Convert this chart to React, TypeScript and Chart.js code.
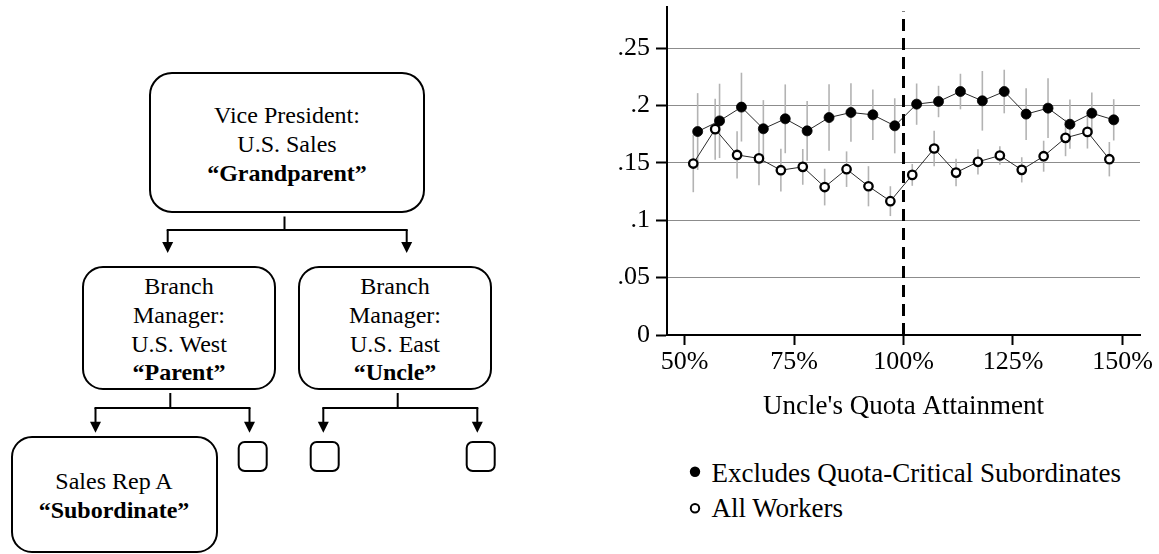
import React, { useEffect, useRef } from "react";
import { Chart, registerables } from "chart.js";

Chart.register(...registerables);

// ---------- chart data ----------
const filledX = [53, 58, 63, 68, 73, 78, 83, 88, 93, 98, 103, 108, 113, 118, 123, 128, 133, 138, 143, 148];
const filledY = [0.1774, 0.1867, 0.1987, 0.1798, 0.1885, 0.178, 0.1896, 0.194, 0.192, 0.1824, 0.2013, 0.2036, 0.2123, 0.2042, 0.2123, 0.1926, 0.1978, 0.1838, 0.1934, 0.1876];
const filledErr = [0.0335, 0.0324, 0.03, 0.025, 0.03, 0.026, 0.029, 0.0255, 0.022, 0.024, 0.018, 0.0137, 0.0155, 0.026, 0.019, 0.0225, 0.026, 0.0215, 0.018, 0.018];

const hollowX = [52, 57, 62, 67, 72, 77, 82, 87, 92, 97, 102, 107, 112, 117, 122, 127, 132, 137, 142, 147];
const hollowY = [0.1495, 0.1795, 0.157, 0.154, 0.1437, 0.1466, 0.129, 0.1446, 0.1297, 0.1167, 0.1396, 0.1626, 0.1416, 0.151, 0.1565, 0.144, 0.1559, 0.1719, 0.1771, 0.1533];
const hollowErr = [0.025, 0.0266, 0.0206, 0.0235, 0.0186, 0.0156, 0.016, 0.0155, 0.0175, 0.013, 0.0095, 0.0155, 0.012, 0.011, 0.008, 0.011, 0.0135, 0.016, 0.0145, 0.015];

const cutoffX = [100, 100];
const cutoffY = [0, 0.282];

const xTickValues = [50, 75, 100, 125, 150];
const xTickLabels = ["50%", "75%", "100%", "125%", "150%"];
const yTickValues = [0, 0.05, 0.1, 0.15, 0.2, 0.25];
const yTickLabels = ["0", ".05", ".1", ".15", ".2", ".25"];

const seriesNames = ["Excludes Quota-Critical Subordinates", "All Workers"];
const xTitle = "Uncle's Quota Attainment";

const SERIF = "'Liberation Serif', 'Times New Roman', serif";

const errorBarPlugin = {
  id: "errorBars",
  beforeDatasetsDraw(chart: any) {
    const { ctx, scales } = chart;
    const x = scales.x;
    const y = scales.y;
    ctx.save();
    ctx.strokeStyle = "#b3b3b3";
    ctx.lineWidth = 1.6;
    chart.data.datasets.forEach((ds: any) => {
      const errs: number[] | undefined = ds.errorBars;
      if (!errs) return;
      ds.data.forEach((p: any, i: number) => {
        const px = x.getPixelForValue(p.x);
        ctx.beginPath();
        ctx.moveTo(px, y.getPixelForValue(p.y - errs[i]));
        ctx.lineTo(px, y.getPixelForValue(p.y + errs[i]));
        ctx.stroke();
      });
    });
    ctx.restore();
  },
};

function ScatterChart() {
  const ref = useRef<HTMLCanvasElement | null>(null);
  useEffect(() => {
    if (!ref.current) return;
    Chart.defaults.color = "#000";
    const chart = new Chart(ref.current, {
      type: "line",
      data: {
        datasets: [
          {
            label: "cutoff",
            data: cutoffX.map((v, i) => ({ x: v, y: cutoffY[i] })),
            borderColor: "#000",
            borderWidth: 3,
            borderDash: [12, 7],
            pointRadius: 0,
            fill: false,
          },
          {
            label: seriesNames[1],
            data: hollowX.map((v, i) => ({ x: v, y: hollowY[i] })),
            errorBars: hollowErr,
            borderColor: "#2a2a2a",
            borderWidth: 1,
            pointRadius: 4.2,
            pointBorderWidth: 2.3,
            pointBackgroundColor: "#fff",
            pointBorderColor: "#000",
            fill: false,
            tension: 0,
          } as any,
          {
            label: seriesNames[0],
            data: filledX.map((v, i) => ({ x: v, y: filledY[i] })),
            errorBars: filledErr,
            borderColor: "#2a2a2a",
            borderWidth: 1,
            pointRadius: 5,
            pointBorderWidth: 0.8,
            pointBackgroundColor: "#000",
            pointBorderColor: "#000",
            fill: false,
            tension: 0,
          } as any,
        ],
      },
      options: {
        animation: false,
        responsive: true,
        maintainAspectRatio: false,
        layout: { padding: { left: 0, right: 19, top: 7, bottom: 0 }, autoPadding: false } as any,
        plugins: { legend: { display: false }, tooltip: { enabled: false } },
        events: [],
        scales: {
          x: {
            type: "linear",
            min: 46,
            max: 154,
            afterBuildTicks: (s: any) => {
              s.ticks = xTickValues.map((v) => ({ value: v }));
            },
            afterFit: (s: any) => {
              s.height = 95;
              s.paddingLeft = 0;
              s.paddingRight = 0;
            },
            ticks: {
              autoSkip: false,
              maxRotation: 0,
              padding: 2,
              color: "#000",
              font: { family: SERIF, size: 26 },
              callback: (v: any) => {
                const i = xTickValues.indexOf(Number(v));
                return i >= 0 ? xTickLabels[i] : "";
              },
            },
            grid: {
              drawOnChartArea: false,
              drawTicks: true,
              tickLength: 10,
              tickColor: "#000",
              tickWidth: 2,
            },
            border: { color: "#000", width: 2 },
            title: {
              display: true,
              text: xTitle,
              color: "#000",
              font: { family: SERIF, size: 27 },
              padding: { top: 0, bottom: 7 },
            },
          },
          y: {
            type: "linear",
            min: 0,
            max: 0.286,
            afterBuildTicks: (s: any) => {
              s.ticks = yTickValues.map((v) => ({ value: v }));
            },
            afterFit: (s: any) => {
              s.width = 87;
              s.paddingTop = 0;
              s.paddingBottom = 0;
            },
            ticks: {
              padding: 6,
              color: "#000",
              font: { family: SERIF, size: 26 },
              callback: (_v: any, i: number) => yTickLabels[i],
            },
            grid: {
              color: (c: any) => (c.tick && c.tick.value === 0 ? "rgba(0,0,0,0)" : "#8c8c8c"),
              lineWidth: 1,
              drawTicks: true,
              tickLength: 11,
              tickColor: "#000",
              tickWidth: 2,
            },
            border: { color: "#000", width: 2 },
          },
        },
      },
      plugins: [errorBarPlugin],
    } as any);
    return () => chart.destroy();
  }, []);
  return (
    <div style={{ position: "absolute", left: 580, top: 0, width: 579, height: 430 }}>
      <canvas ref={ref} />
    </div>
  );
}

// ---------- org chart diagram (layout only) ----------
type Box = { x: number; y: number; w: number; h: number; r: number; cx?: number; lines?: { t: string; b?: boolean; y: number }[] };

const boxes: Box[] = [
  {
    x: 150, y: 73, w: 274, h: 139, r: 22, cx: 287,
    lines: [
      { t: "Vice President:", y: 123.3 },
      { t: "U.S. Sales", y: 152.3 },
      { t: "\u201CGrandparent\u201D", b: true, y: 181 },
    ],
  },
  {
    x: 83, y: 267, w: 192, h: 122, r: 20, cx: 179,
    lines: [
      { t: "Branch", y: 294.3 },
      { t: "Manager:", y: 323.3 },
      { t: "U.S. West", y: 352.3 },
      { t: "\u201CParent\u201D", b: true, y: 380 },
    ],
  },
  {
    x: 299, y: 267, w: 192, h: 122, r: 20, cx: 395,
    lines: [
      { t: "Branch", y: 294.3 },
      { t: "Manager:", y: 323.3 },
      { t: "U.S. East", y: 352.3 },
      { t: "\u201CUncle\u201D", b: true, y: 380 },
    ],
  },
  {
    x: 12, y: 437, w: 205, h: 115, r: 20, cx: 114,
    lines: [
      { t: "Sales Rep A", y: 489 },
      { t: "\u201CSubordinate\u201D", b: true, y: 517.5 },
    ],
  },
  { x: 238.7, y: 442, w: 28, h: 29, r: 6 },
  { x: 310.7, y: 442, w: 28, h: 29, r: 6 },
  { x: 466.7, y: 442, w: 28, h: 29, r: 6 },
];

type Fork = { stemX: number; stemTop: number; barY: number; left: number; right: number; tipY: number };
const forks: Fork[] = [
  { stemX: 284.5, stemTop: 216.5, barY: 230, left: 167.7, right: 406.7, tipY: 253 },
  { stemX: 170.3, stemTop: 393, barY: 408, left: 95.5, right: 249.5, tipY: 432.7 },
  { stemX: 397.7, stemTop: 393, barY: 408, left: 323.3, right: 477.3, tipY: 432.7 },
];

function Diagram() {
  const arrow = (x: number, top: number, tip: number, k: string) => (
    <g key={k}>
      <line x1={x} y1={top} x2={x} y2={tip - 10} stroke="#000" strokeWidth={2} />
      <polygon points={`${x - 5.5},${tip - 11} ${x + 5.5},${tip - 11} ${x},${tip}`} fill="#000" />
    </g>
  );
  return (
    <svg width={1159} height={554} style={{ position: "absolute", left: 0, top: 0 }}>
      {boxes.map((b, i) => (
        <g key={"b" + i}>
          <rect x={b.x} y={b.y} width={b.w} height={b.h} rx={b.r} ry={b.r} fill="#fff" stroke="#000" strokeWidth={2} />
          {b.lines &&
            b.lines.map((l, j) => (
              <text
                key={j}
                x={b.cx}
                y={l.y}
                textAnchor="middle"
                fontFamily={SERIF}
                fontSize={24}
                fontWeight={l.b ? "bold" : "normal"}
                fill="#000"
              >
                {l.t}
              </text>
            ))}
        </g>
      ))}
      {forks.map((f, i) => (
        <g key={"f" + i}>
          <line x1={f.stemX} y1={f.stemTop} x2={f.stemX} y2={f.barY} stroke="#000" strokeWidth={2} />
          <line x1={f.left - 1} y1={f.barY} x2={f.right + 1} y2={f.barY} stroke="#000" strokeWidth={2} />
          {arrow(f.left, f.barY, f.tipY, "l")}
          {arrow(f.right, f.barY, f.tipY, "r")}
        </g>
      ))}
      {/* chart legend */}
      <circle cx={695} cy={471.7} r={5.2} fill="#000" />
      <text x={711.5} y={481.7} fontFamily={SERIF} fontSize={27} fill="#000">
        {seriesNames[0]}
      </text>
      <circle cx={695} cy={508.3} r={4.2} fill="#fff" stroke="#000" strokeWidth={2} />
      <text x={711.5} y={516.7} fontFamily={SERIF} fontSize={27} fill="#000">
        {seriesNames[1]}
      </text>
    </svg>
  );
}

export default function App() {
  return (
    <div
      style={{
        position: "fixed",
        left: 0,
        top: 0,
        width: 1159,
        height: 554,
        background: "#fff",
        overflow: "hidden",
      }}
    >
      <Diagram />
      <ScatterChart />
    </div>
  );
}
